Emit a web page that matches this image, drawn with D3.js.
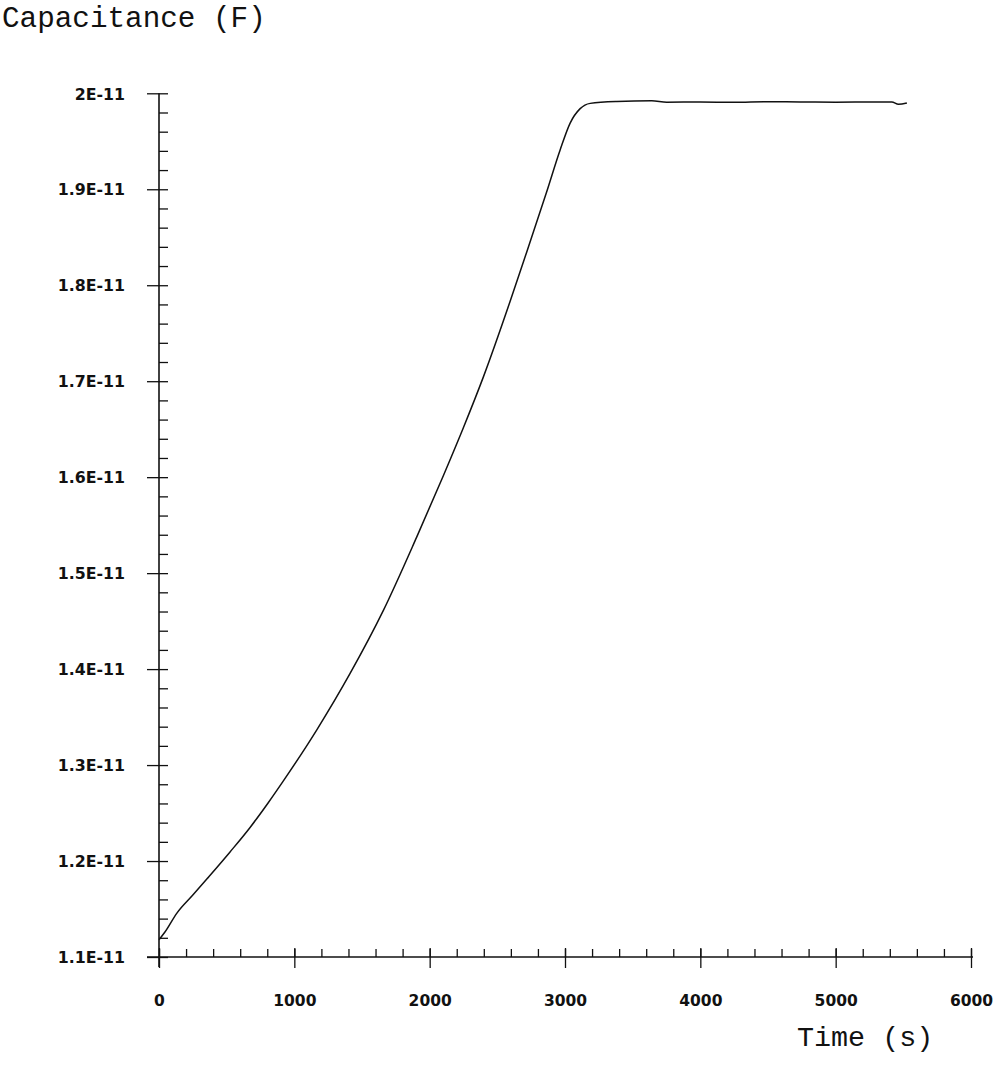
<!DOCTYPE html>
<html>
<head>
<meta charset="utf-8">
<script src="https://cdn.jsdelivr.net/npm/d3@7"></script>
<style>
  html, body { margin: 0; padding: 0; background: #fff; }
  svg { display: block; }
  .tick text { font-family: "DejaVu Sans", sans-serif; font-weight: bold; fill: #111; }
  .mono { font-family: "Courier New", "Liberation Mono", monospace; fill: #111; }
</style>
</head>
<body>
<svg id="chart" width="1000" height="1088"></svg>
<script>
// ---- data ----
const timeS = [0, 44, 131, 250, 355, 525, 673, 806, 919, 1165, 1412, 1658, 1904, 2101, 2249,
  2397, 2594, 2718, 2866, 2964, 3038, 3112, 3186, 3383, 3641, 3752, 4000, 4245, 4500,
  4738, 5000, 5231, 5415, 5464, 5526];
const capacitanceF = [1.118e-11, 1.126e-11, 1.1455e-11, 1.1645e-11, 1.1815e-11, 1.2095e-11, 1.235e-11,
  1.2605e-11, 1.2835e-11, 1.3365e-11, 1.3955e-11, 1.4612e-11, 1.5375e-11, 1.6015e-11, 1.6515e-11,
  1.7045e-11, 1.783e-11, 1.835e-11, 1.898e-11, 1.941e-11, 1.969e-11, 1.984e-11,
  1.9895e-11, 1.9915e-11, 1.9922e-11, 1.9908e-11, 1.991e-11, 1.9906e-11, 1.9912e-11,
  1.991e-11, 1.9908e-11, 1.991e-11, 1.991e-11, 1.9885e-11, 1.990e-11];

const xMajorTicks = [0, 1000, 2000, 3000, 4000, 5000, 6000];
const xTickLabels = ["0", "1000", "2000", "3000", "4000", "5000", "6000"];
const yMajorTicks = [1.1e-11, 1.2e-11, 1.3e-11, 1.4e-11, 1.5e-11, 1.6e-11, 1.7e-11, 1.8e-11, 1.9e-11, 2.0e-11];
const yTickLabels = ["1.1E-11", "1.2E-11", "1.3E-11", "1.4E-11", "1.5E-11", "1.6E-11", "1.7E-11", "1.8E-11", "1.9E-11", "2E-11"];
const xMinorStep = 200;
const yMinorStep = 0.02e-11;
const yTitle = "Capacitance (F)";
const xTitle = "Time (s)";

// ---- layout ----
const svg = d3.select("#chart");
const x = d3.scaleLinear().domain([0, 6000]).range([159, 971]);
const y = d3.scaleLinear().domain([1.1e-11, 2.0e-11]).range([957, 93.3]);

const xMinor = d3.range(0, 6000 + 1, xMinorStep);
const yMinor = d3.range(0, 46).map(i => 1.1e-11 + i * yMinorStep);

const ink = "#111";

// axis lines
svg.append("line")
  .attr("x1", x(0)).attr("x2", x(0))
  .attr("y1", y(2.0e-11)).attr("y2", y(1.1e-11) + 10)
  .attr("stroke", ink).attr("stroke-width", 1.6);
svg.append("line")
  .attr("x1", x(0) - 12).attr("x2", x(6000) + 2)
  .attr("y1", y(1.1e-11)).attr("y2", y(1.1e-11))
  .attr("stroke", ink).attr("stroke-width", 1.6);

// y axis: minor/inside ticks
svg.append("g")
  .attr("transform", `translate(${x(0)},0)`)
  .call(d3.axisRight(y).tickValues(yMinor).tickSize(9).tickFormat(""))
  .call(g => g.select(".domain").remove())
  .call(g => g.selectAll(".tick line").attr("stroke", ink).attr("stroke-width", 1.3));

// y axis: major outside ticks + labels
svg.append("g")
  .attr("transform", `translate(${x(0)},0)`)
  .call(d3.axisLeft(y).tickValues(yMajorTicks).tickSize(12).tickPadding(22)
    .tickFormat((d, i) => yTickLabels[i]))
  .call(g => g.select(".domain").remove())
  .call(g => g.selectAll(".tick line").attr("stroke", ink).attr("stroke-width", 1.3))
  .call(g => g.selectAll(".tick text").attr("font-size", 15.8).attr("dy", "0.36em"));

// x axis: minor inside ticks
svg.append("g")
  .attr("transform", `translate(0,${y(1.1e-11)})`)
  .call(d3.axisTop(x).tickValues(xMinor).tickSize(8).tickFormat(""))
  .call(g => g.select(".domain").remove())
  .call(g => g.selectAll(".tick line").attr("stroke", ink).attr("stroke-width", 1.3));

// x axis: major ticks (cross both sides) + labels
svg.append("g")
  .attr("transform", `translate(0,${y(1.1e-11)})`)
  .call(d3.axisTop(x).tickValues(xMajorTicks).tickSize(9).tickFormat(""))
  .call(g => g.select(".domain").remove())
  .call(g => g.selectAll(".tick line").attr("stroke", ink).attr("stroke-width", 1.3));
svg.append("g")
  .attr("transform", `translate(0,${y(1.1e-11)})`)
  .call(d3.axisBottom(x).tickValues(xMajorTicks).tickSize(11).tickPadding(27)
    .tickFormat((d, i) => xTickLabels[i]))
  .call(g => g.select(".domain").remove())
  .call(g => g.selectAll(".tick line").attr("stroke", ink).attr("stroke-width", 1.3))
  .call(g => g.selectAll(".tick text").attr("font-size", 15.5));

// curve
const line = d3.line()
  .x((d, i) => x(timeS[i]))
  .y(d => y(d))
  .curve(d3.curveMonotoneX);
svg.append("path")
  .datum(capacitanceF)
  .attr("d", line)
  .attr("fill", "none")
  .attr("stroke", ink)
  .attr("stroke-width", 1.5)
  .attr("stroke-linejoin", "round");

// titles
svg.append("text").attr("class", "mono")
  .attr("x", 2).attr("y", 27)
  .attr("font-size", 29.3)
  .text(yTitle);
svg.append("text").attr("class", "mono")
  .attr("x", 797).attr("y", 1046)
  .attr("font-size", 28.4)
  .text(xTitle);
</script>
</body>
</html>
